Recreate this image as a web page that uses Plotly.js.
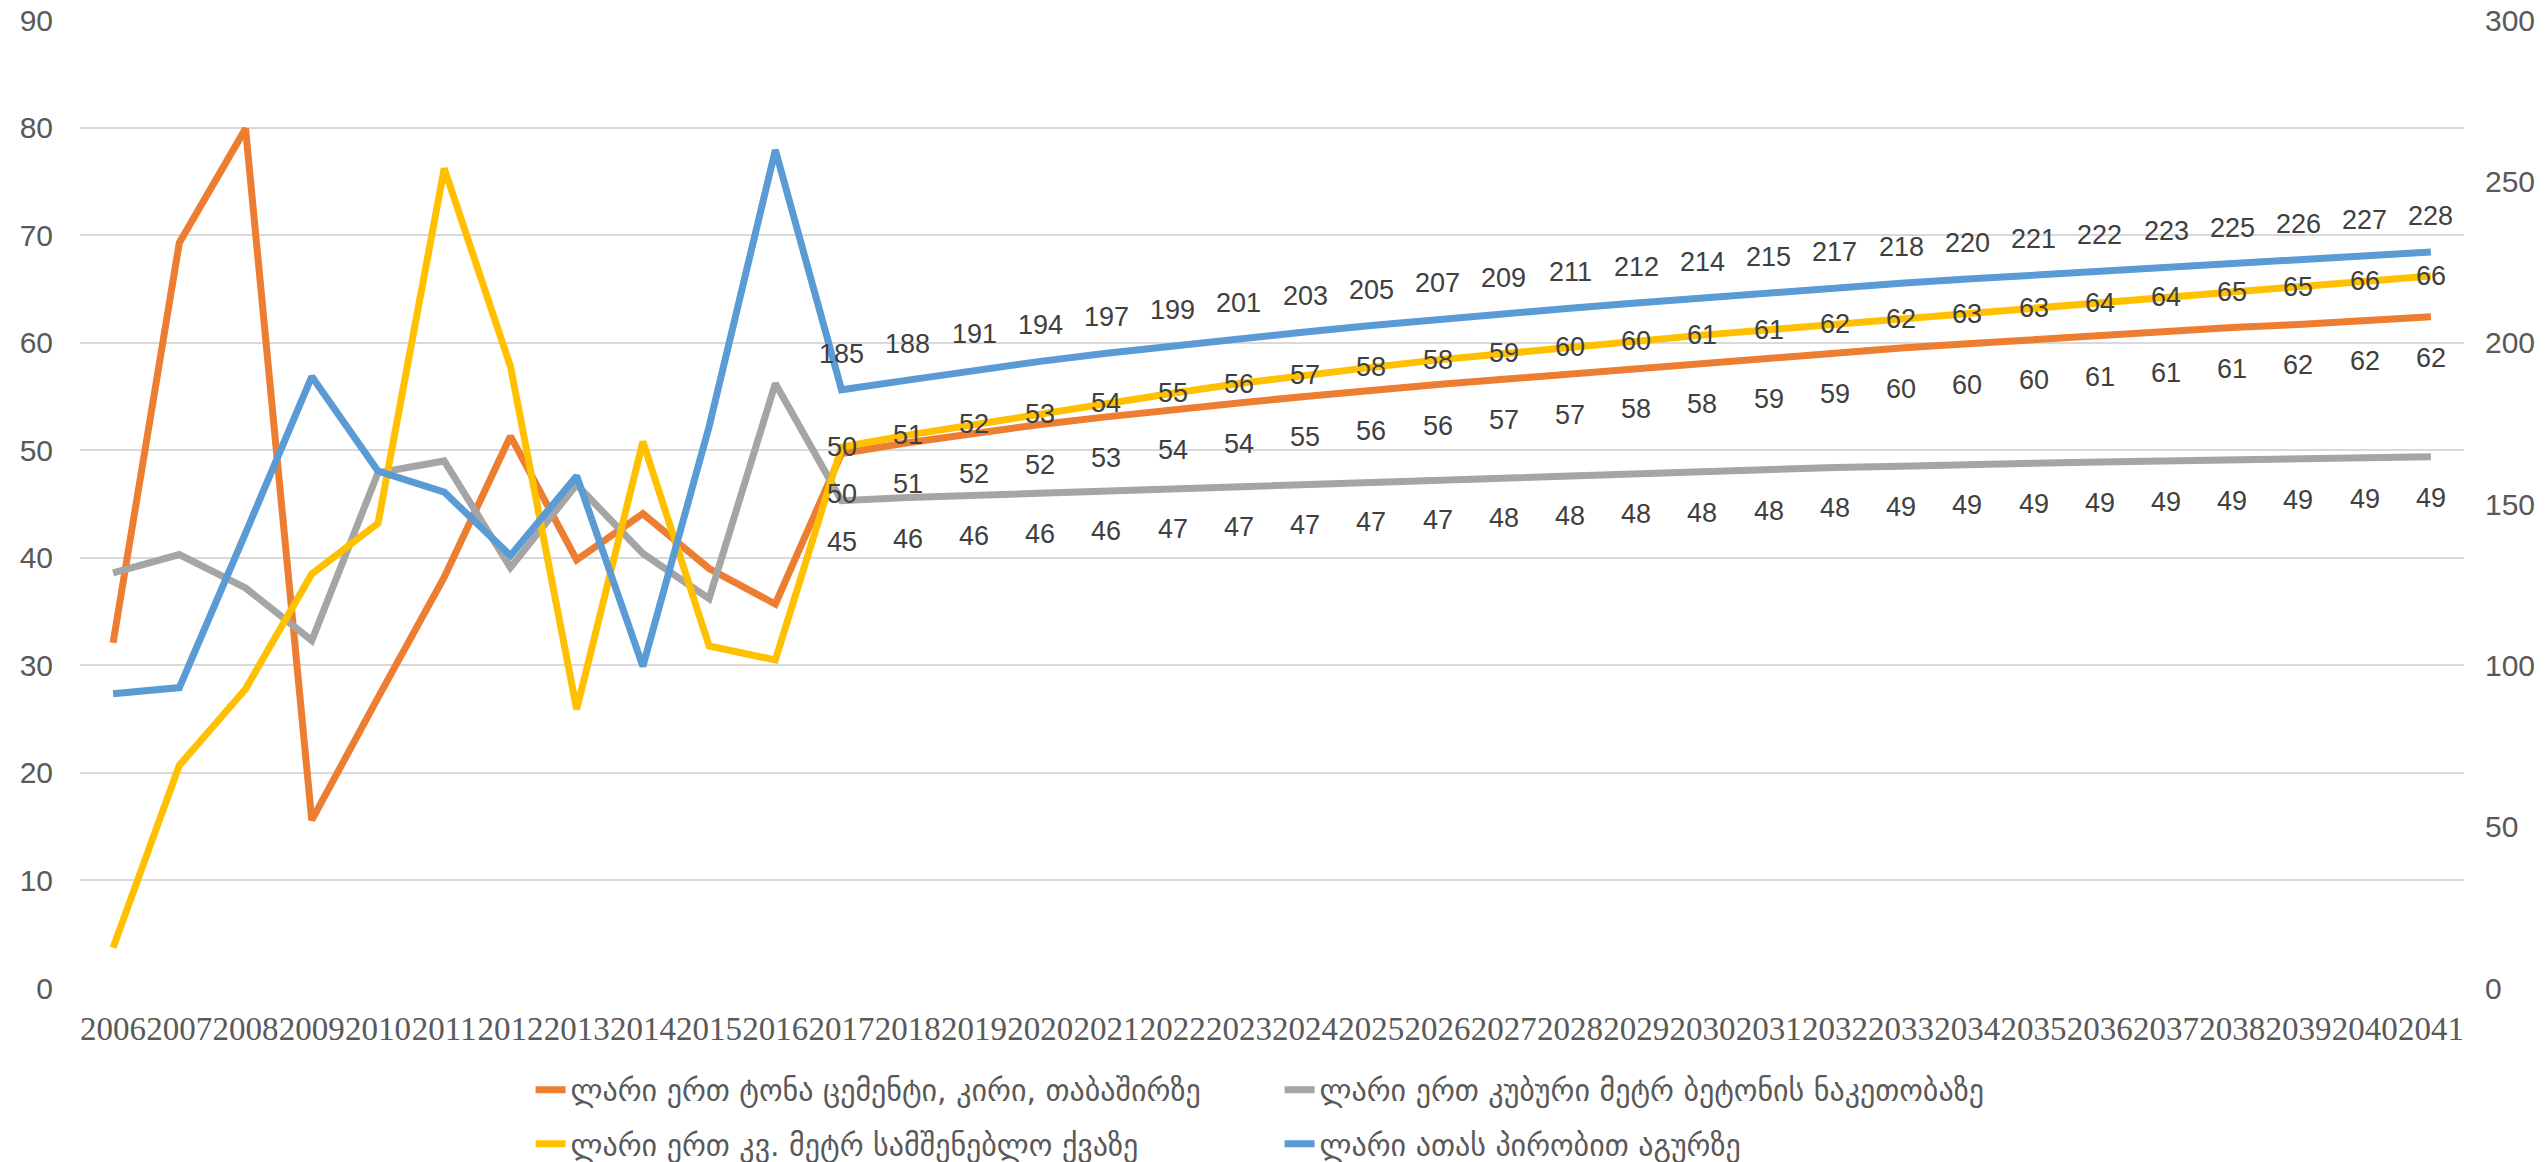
<!DOCTYPE html>
<html>
<head>
<meta charset="utf-8">
<script src="https://cdn.plot.ly/plotly-3.0.1.min.js"></script>
<style>html,body{margin:0;padding:0;background:#fff;}#chart{width:2547px;height:1162px;}</style>
</head>
<body>
<div id="chart"></div>
<script>
const years = ["2006","2007","2008","2009","2010","2011","2012","2013","2014","2015","2016",
  "2017","2018","2019","2020","2021","2022","2023","2024","2025","2026","2027","2028","2029",
  "2030","2031","2032","2033","2034","2035","2036","2037","2038","2039","2040","2041"];
const firstLabelYear = "2017";

const cementName = "ლარი ერთ ტონა ცემენტი, კირი, თაბაშირზე";
const concreteName = "ლარი ერთ კუბური მეტრ ბეტონის ნაკეთობაზე";
const stoneName = "ლარი ერთ კვ. მეტრ სამშენებლო ქვაზე";
const brickName = "ლარი ათას პირობით აგურზე";

const cement = [32.1, 69.3, 79.9, 15.6, 27.0, 38.2, 51.3, 39.8, 44.1, 39.0, 35.7,
  49.7, 50.7, 51.6, 52.4, 53.1, 53.8, 54.4, 55.0, 55.6, 56.1, 56.6, 57.1, 57.6,
  58.1, 58.6, 59.0, 59.5, 59.9, 60.3, 60.6, 61.0, 61.4, 61.7, 62.1, 62.4];
const concrete = [38.6, 40.3, 37.2, 32.3, 47.9, 49.0, 39.1, 46.8, 40.4, 36.2, 56.2,
  45.3, 45.6, 45.8, 46.0, 46.3, 46.5, 46.7, 46.9, 47.1, 47.3, 47.5, 47.7, 47.9,
  48.0, 48.2, 48.4, 48.5, 48.7, 48.8, 48.9, 49.0, 49.1, 49.2, 49.3, 49.4];
const stone = [3.75, 20.7, 27.8, 38.5, 43.2, 76.2, 57.8, 25.9, 50.8, 31.8, 30.5,
  50.3, 51.4, 52.4, 53.4, 54.4, 55.3, 56.2, 57.0, 57.7, 58.4, 59.0, 59.6, 60.2,
  60.7, 61.2, 61.7, 62.2, 62.7, 63.2, 63.7, 64.2, 64.7, 65.2, 65.7, 66.2];
const brick = [91.2, 93.1, 141, 189.5, 160.2, 153.7, 134, 158.7, 99.7, 174, 259.7,
  185.4, 188.4, 191.4, 194.2, 196.7, 199.0, 201.2, 203.3, 205.3, 207.2, 209.0, 210.7, 212.3,
  213.9, 215.4, 216.9, 218.4, 219.7, 220.9, 222.1, 223.3, 224.5, 225.7, 226.9, 228.1];

const COL = {cement:"#ED7D31", concrete:"#A5A5A5", stone:"#FFC000", brick:"#5B9BD5"};
const LW = 7;

function tr(name, y, color, axis, legend) {
  return {type:"scatter", mode:"lines", x:years, y:y, name:name,
    line:{color:color, width:LW}, yaxis:axis, legend:legend, hoverinfo:"skip"};
}
const data = [
  tr(cementName, cement, COL.cement, "y", "legend"),
  tr(concreteName, concrete, COL.concrete, "y", "legend"),
  tr(stoneName, stone, COL.stone, "y", "legend2"),
  tr(brickName, brick, COL.brick, "y2", "legend2")
];

const startIdx = years.indexOf(firstLabelYear);
const annotations = [];
function addLabels(vals, yref, shift) {
  for (let i = startIdx; i < years.length; i++) {
    annotations.push({x:i, y:vals[i], xref:"x", yref:yref, text:String(Math.round(vals[i])),
      showarrow:false, yshift:shift, font:{family:"Liberation Sans, Arial, sans-serif", size:27, color:"#404040"}});
  }
}
addLabels(cement, "y", -41);
addLabels(concrete, "y", -41);
addLabels(stone, "y", 0);
addLabels(brick, "y2", 36);

const tickFont = {family:"Liberation Sans, Arial, sans-serif", size:30, color:"#595959"};
const legFont = {family:"DejaVu Sans, Noto Sans, sans-serif", size:30, color:"#595959"};

const layout = {
  width:2547, height:1162,
  margin:{l:80, r:83, t:20, b:174, pad:0, autoexpand:false},
  paper_bgcolor:"#ffffff", plot_bgcolor:"#ffffff",
  hovermode:false,
  xaxis:{type:"category", range:[-0.5, 35.5], showgrid:false, zeroline:false, showline:false,
    ticks:"", tickangle:0, ticklabelstandoff:18, automargin:false,
    tickfont:{family:"Liberation Serif, serif", size:33, color:"#595959"}},
  yaxis:{range:[0,90], dtick:10, tick0:0, showgrid:true, gridcolor:"#D9D9D9", gridwidth:2,
    zeroline:false, showline:false, ticks:"", ticklabelstandoff:26, automargin:false, tickfont:tickFont},
  yaxis2:{range:[0,300], dtick:50, tick0:0, overlaying:"y", side:"right", showgrid:false,
    zeroline:false, showline:false, ticks:"", ticklabelstandoff:20, automargin:false, tickfont:tickFont},
  legend:{orientation:"h", x:0.189, xanchor:"left", y:-0.105, yanchor:"middle",
    entrywidth:704, entrywidthmode:"pixels", font:legFont, bgcolor:"rgba(0,0,0,0)", traceorder:"normal"},
  legend2:{orientation:"h", x:0.189, xanchor:"left", y:-0.161, yanchor:"middle",
    entrywidth:704, entrywidthmode:"pixels", font:legFont, bgcolor:"rgba(0,0,0,0)", traceorder:"normal"},
  annotations:annotations,
  showlegend:true
};

Plotly.newPlot("chart", data, layout, {displayModeBar:false, staticPlot:true});
</script>
</body>
</html>
